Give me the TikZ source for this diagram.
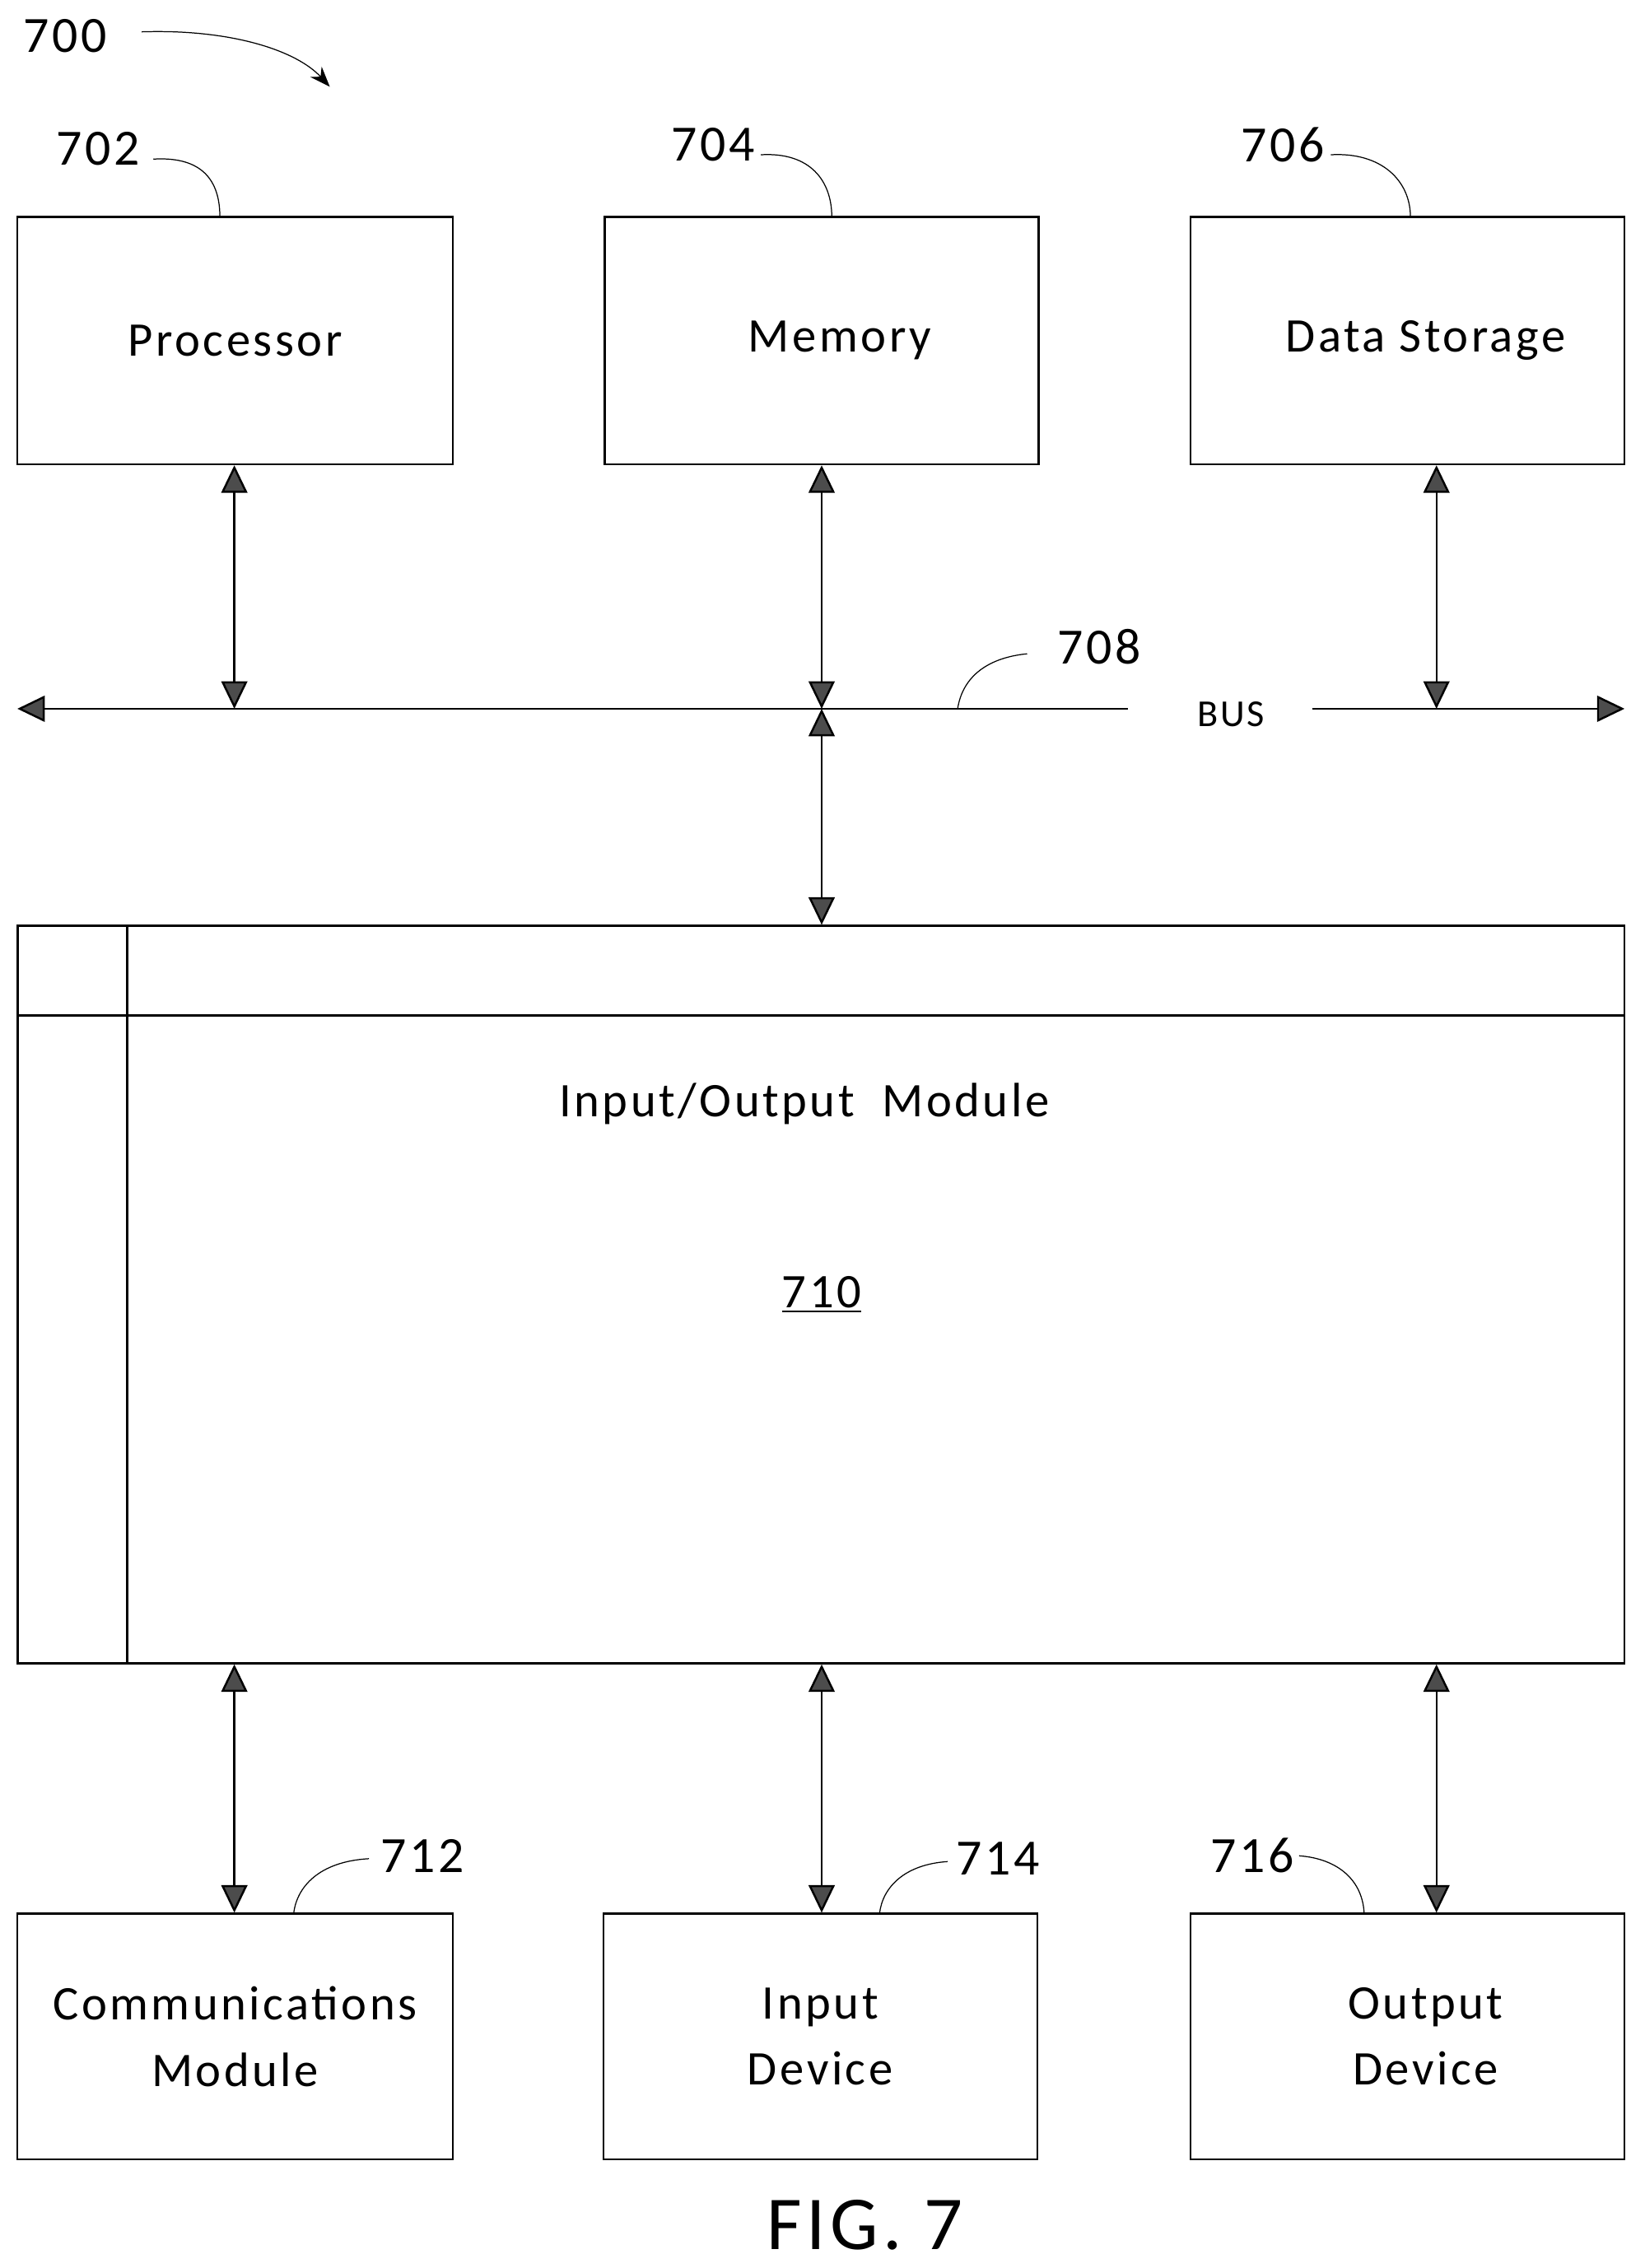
\documentclass[tikz,border=0pt]{standalone}
\usepackage{fontspec}
\setmainfont[LetterSpace=6]{Carlito}
\usetikzlibrary{arrows.meta}
\begin{document}
\begin{tikzpicture}[x=0.02cm,y=-0.02cm,
    tip/.style={Triangle[length=0.38cm,width=0.36cm,fill=black!70]},
    box/.style={draw,thick,inner sep=0pt,align=center,font=\fontsize{19}{26}\selectfont},
    link/.style={thick,{Triangle[length=0.38cm,width=0.36cm,fill=black!70]}-{Triangle[length=0.38cm,width=0.36cm,fill=black!70]}},
    tag/.style={font=\fontsize{20}{22}\selectfont},
    lead/.style={thin}]
    \useasboundingbox (0,0) rectangle (1137,1568);
    % top row
    \node[box,minimum width=6.02cm,minimum height=3.42cm] (proc) at (162.5,235.5) {Processor};
    \node[box,minimum width=6cm,minimum height=3.42cm] (mem) at (568,235.5) {\hspace*{0.5cm}Memory};
    \node[box,minimum width=6cm,minimum height=3.42cm] (stor) at (973,235.5) {\hspace*{0.5cm}Data Storage};
    % bus
    \coordinate (busL) at (12,490);
    \coordinate (busR) at (1123,490);
    \coordinate (bp) at (162,490);
    \coordinate (bm) at (568,490);
    \coordinate (bs) at (993,490);
    \node[font=\fontsize{15}{16}\selectfont] (bus) at (851,494) {BUS};
    \draw[thick,{Triangle[length=0.38cm,width=0.36cm,fill=black!70]}-] (busL) -- (780,490);
    \draw[thick,-{Triangle[length=0.38cm,width=0.36cm,fill=black!70]}] (907,490) -- (busR);
    \draw[link] (proc.south -| bp) -- (bp);
    \draw[link] (mem.south -| bm) -- (bm);
    \draw[link] (stor.south -| bs) -- (bs);
    % io module
    \node[box,minimum width=22.22cm,minimum height=10.2cm] (io) at (567.5,895) {};
    \draw[thick] (88,640) -- (88,1150);
    \draw[thick] (12,702) -- (1123,702);
    \node[box,draw=none] (iot) at (556,763) {Input/Output\ \ Module};
    \node[box,draw=none] (ion) at (568,895) {\underline{710}};
    \draw[link] (bm) -- (io.north -| bm);
    % bottom row
    \node[box,minimum width=6.02cm,minimum height=3.4cm] (comm) at (162.5,1408) {Communications\\Module};
    \node[box,minimum width=6cm,minimum height=3.4cm] (inp) at (567,1408) {Input\\Device};
    \node[box,minimum width=6cm,minimum height=3.4cm] (outp) at (973,1408) {\hspace*{0.5cm}Output\\\hspace*{0.5cm}Device};
    \draw[link] (io.south -| bp) -- (comm.north -| bp);
    \draw[link] (io.south -| bm) -- (inp.north -| bm);
    \draw[link] (io.south -| bs) -- (outp.north -| bs);
    % reference numerals
    \node[tag] (n700) at (45,25) {700};
    \draw[lead,-{Stealth[length=8pt,width=6pt]}] (98,22) .. controls (160,20) and (205,35) .. (228,60);
    \node[tag] (n702) at (68,103) {702};
    \draw[lead] (106,110) .. controls (140,108) and (152,125) .. (152,150);
    \node[tag] (n704) at (493,100) {704};
    \draw[lead] (526,107) .. controls (560,105) and (575,125) .. (575,150);
    \node[tag] (n706) at (887,100) {706};
    \draw[lead] (920,107) .. controls (955,105) and (975,125) .. (975,150);
    \node[tag] (n708) at (760,447) {708};
    \draw[lead] (710,452) .. controls (680,455) and (665,470) .. (662,490);
    \node[tag] (n712) at (292,1283) {712};
    \draw[lead] (255,1285) .. controls (220,1287) and (205,1305) .. (203,1323);
    \node[tag] (n714) at (690,1285) {714};
    \draw[lead] (655,1287) .. controls (625,1289) and (610,1305) .. (608,1323);
    \node[tag] (n716) at (866,1283) {716};
    \draw[lead] (898,1283) .. controls (925,1285) and (942,1300) .. (943,1323);
    \node[font=\fontsize{30}{32}\selectfont] (fig) at (598,1538) {FIG. 7};
\end{tikzpicture}
\end{document}
